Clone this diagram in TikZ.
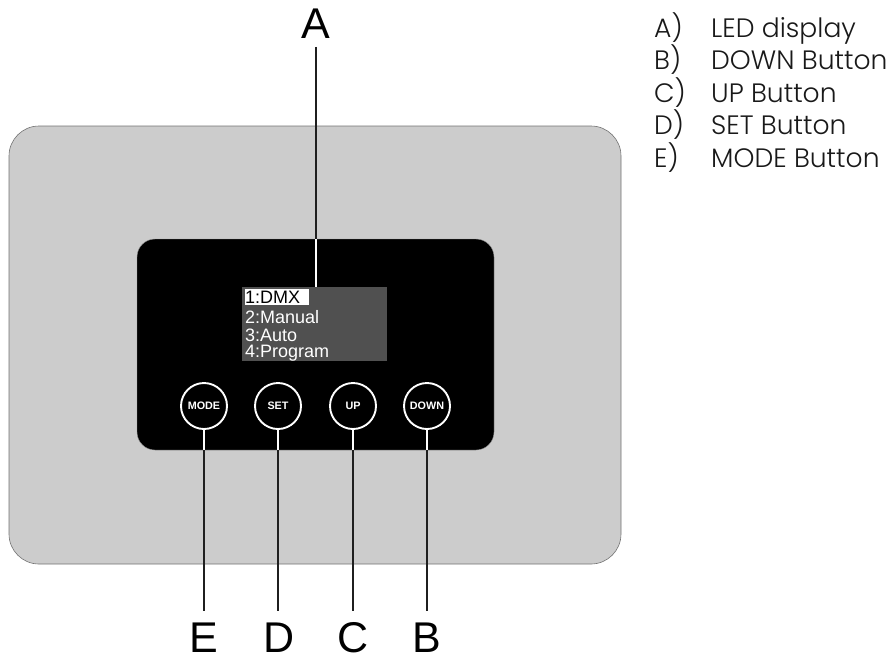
\documentclass[tikz,border=0pt]{standalone}
\usepackage{fontspec}
\setmainfont{Liberation Sans}
\newfontfamily\listfont{Poppins Light}
\tikzset{
  x=1pt,y=-1pt,
  callout/.style={inner sep=0pt,font=\fontsize{43}{43}\selectfont,text=black},
  panelbtn/.style={circle,draw=white,line width=1.9pt,fill=black,minimum size=46pt,inner sep=0pt,text=white,font=\fontsize{10.8}{12}\selectfont\bfseries},
  lcdline/.style={anchor=base west,inner sep=0pt,text=white,font=\fontsize{18}{18}\selectfont},
  listitem/.style={anchor=base west,inner sep=0pt,text=black!90,font=\listfont\fontsize{26.6}{26.6}\selectfont},
  leaderdark/.style={draw=black!88,line width=2.4pt},
  leaderlight/.style={draw=white,line width=2.4pt}
}
\definecolor{shell}{HTML}{CCCCCC}
\definecolor{lcd}{HTML}{505050}
\begin{document}
\begin{tikzpicture}
\useasboundingbox (0,0) rectangle (888,657);
\path[fill=shell,draw=black!55,line width=0.6pt,rounded corners=30pt] (9,126) rectangle (621,564);
\path[fill=black,draw=black!40,line width=0.4pt,rounded corners=18pt] (137,239) rectangle (494,450);
\node[draw=none,fill=lcd,minimum width=145pt,minimum height=74pt,inner sep=0pt] (screen) at (314.5,324) {};
\path[fill=white] (245,289) rectangle (309,305);
\node[lcdline,text=black] (l1) at (245,303) {1:DMX};
\node[lcdline] (l2) at (245,323) {2:Manual};
\node[lcdline] (l3) at (245,341) {3:Auto};
\node[lcdline] (l4) at (245,357) {4:Program};
\node[panelbtn] (mode) at (204,406) {MODE};
\node[panelbtn] (set) at (278,406) {SET};
\node[panelbtn] (up) at (353,406) {UP};
\node[panelbtn] (down) at (427,406) {DOWN};
\node[callout] (A) at (316,24) {A};
\node[callout] (E) at (204,638) {E};
\node[callout] (D) at (279,638) {D};
\node[callout] (C) at (353,638) {C};
\node[callout] (B) at (427,638) {B};
\coordinate (ap) at (316,239);
\coordinate (em) at (204,450);
\coordinate (dm) at (278,450);
\coordinate (cm) at (353,450);
\coordinate (bm) at (427,450);
\draw[leaderdark,shorten <=8pt] (A.south) -- (ap);
\draw[leaderlight] (ap) -- (screen.north -| ap);
\foreach \b/\m/\t in {mode/em/E,set/dm/D,up/cm/C,down/bm/B}{
  \draw[leaderlight] (\b.south) -- (\m);
  \draw[leaderdark,shorten >=12pt] (\m) -- (\m |- \t.north);
}
\node[listitem] (ka) at (654,37) {A)};
\node[listitem] (va) at (711,37) {LED display};
\node[listitem] (kb) at (654,69.5) {B)};
\node[listitem] (vb) at (711,69.5) {DOWN Button};
\node[listitem] (kc) at (654,102) {C)};
\node[listitem] (vc) at (711,102) {UP Button};
\node[listitem] (kd) at (654,134) {D)};
\node[listitem] (vd) at (711,134) {SET Button};
\node[listitem] (ke) at (654,167) {E)};
\node[listitem] (ve) at (711,167) {MODE Button};
\end{tikzpicture}
\end{document}
